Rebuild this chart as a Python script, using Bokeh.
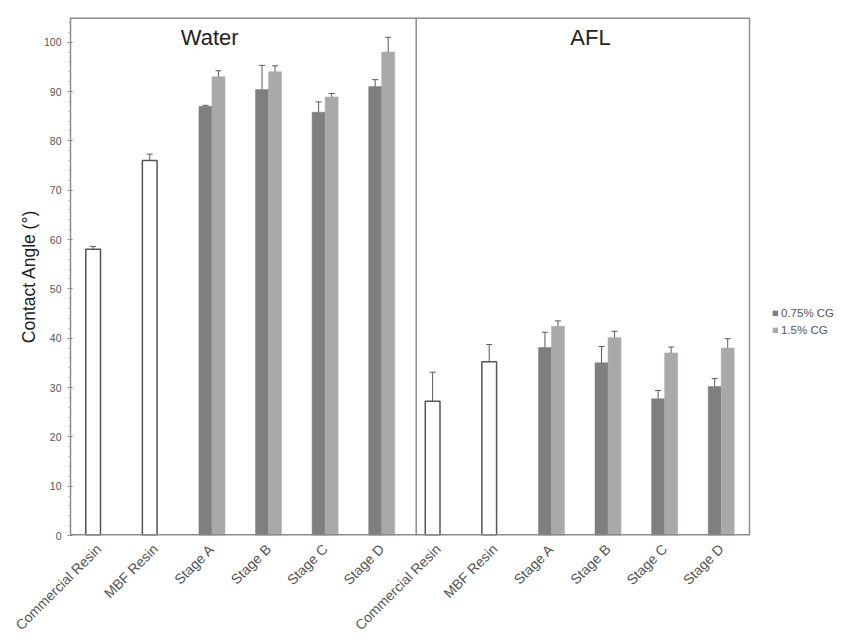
import math
from bokeh.plotting import figure
from bokeh.models import (ColumnDataSource, Whisker, Span, Label, Legend,
                          LegendItem, FixedTicker, TeeHead)
from bokeh.embed import file_html
from bokeh.resources import INLINE

# ---- data -------------------------------------------------------------
panels = ["Water", "AFL"]
resins = ["Commercial Resin", "MBF Resin"]
stages = ["Stage A", "Stage B", "Stage C", "Stage D"]
series_names = ["0.75% CG", "1.5% CG"]

water_resin = [58.0, 76.0]
water_resin_err = [0.6, 1.3]
water_low = [87.0, 90.4, 85.8, 91.0]
water_low_err = [0.2, 4.9, 2.1, 1.4]
water_high = [93.0, 94.0, 88.9, 98.0]
water_high_err = [1.2, 1.2, 0.7, 3.0]

afl_resin = [27.2, 35.2]
afl_resin_err = [5.9, 3.5]
afl_low = [38.1, 35.0, 27.7, 30.2]
afl_low_err = [3.1, 3.3, 1.7, 1.6]
afl_high = [42.4, 40.1, 37.0, 38.0]
afl_high_err = [1.1, 1.3, 1.2, 1.9]

y_ticks = list(range(0, 101, 10))
y_max = 105

# ---- styling -----------------------------------------------------------
FONT = "Liberation Sans"
DARK = "#7f7f7f"
LIGHT = "#aba8a9"
EDGE = "#555555"
FRAME = "#8c8c8c"

n_per_panel = len(resins) + len(stages)
n_cat = n_per_panel * len(panels)
centers = [i + 0.5 for i in range(n_cat)]
tick_labels = (resins + stages) * len(panels)
title_x = [2.46, 9.19]

# the frame runs to the right edge of the canvas; the space beyond the last
# category holds the legend, and the box around the bars is drawn by hand
W, H, LEFT, TOP, BOTTOM, BOX_W = 854, 642, 70, 17, 107, 679
x_end = n_cat * (W - LEFT) / BOX_W

p = figure(width=W, height=H, x_range=(0, x_end), y_range=(0, y_max),
           output_backend="svg", toolbar_location=None,
           min_border_left=LEFT, min_border_right=0,
           min_border_top=TOP, min_border_bottom=BOTTOM)
p.background_fill_color = "white"
p.border_fill_color = "white"
p.outline_line_color = None
p.xgrid.visible = False
p.ygrid.visible = False

resin_w, pair_w, pair_off, resin_off = 0.26, 0.23, 0.115, -0.1


def add_error(xs, tops, errs):
    src = ColumnDataSource(dict(x=xs, lo=[t - e for t, e in zip(tops, errs)],
                                hi=[t + e for t, e in zip(tops, errs)]))
    w = Whisker(base="x", lower="lo", upper="hi", source=src,
                line_color="#5a5a5a", line_width=1,
                upper_head=TeeHead(size=6, line_color="#5a5a5a", line_width=1),
                lower_head=TeeHead(size=6, line_color="#5a5a5a", line_width=1))
    p.add_layout(w)


low_renderers, high_renderers = [], []
for k, (res, res_err, low, low_err, high, high_err) in enumerate([
        (water_resin, water_resin_err, water_low, water_low_err, water_high, water_high_err),
        (afl_resin, afl_resin_err, afl_low, afl_low_err, afl_high, afl_high_err)]):
    base = k * n_per_panel
    rx = [centers[base + i] + resin_off for i in range(len(res))]
    sx = [centers[base + len(res) + i] for i in range(len(low))]
    lx = [x - pair_off for x in sx]
    hx = [x + pair_off for x in sx]

    p.vbar(x=rx, top=res, width=resin_w, bottom=0, fill_color="white",
           line_color=EDGE, line_width=1.5)
    r_low = p.vbar(x=lx, top=low, width=pair_w, bottom=0, fill_color=DARK,
                   line_color=DARK, line_width=0.5)
    r_high = p.vbar(x=hx, top=high, width=pair_w, bottom=0, fill_color=LIGHT,
                    line_color=LIGHT, line_width=0.5)
    low_renderers.append(r_low)
    high_renderers.append(r_high)

    add_error(rx, res, res_err)
    add_error(lx, low, low_err)
    add_error(hx, high, high_err)

# box around the bars: top, bottom and right edges, plus the panel divider
p.segment(x0=[0, 0], x1=[n_cat, n_cat], y0=[y_max, 0], y1=[y_max, 0],
          line_color=FRAME, line_width=3)
p.add_layout(Span(location=n_cat, dimension="height",
                  line_color=FRAME, line_width=1.5))
p.add_layout(Span(location=n_per_panel + 0.11, dimension="height",
                  line_color=FRAME, line_width=1.5))

# panel titles
for name, tx in zip(panels, title_x):
    p.add_layout(Label(x=tx, y=100.9, text=name, text_align="center",
                       text_baseline="middle", text_font=FONT,
                       text_font_size="22px", text_color="#222222"))

# x axis
p.xaxis.ticker = FixedTicker(ticks=centers)
p.xaxis.major_label_overrides = {c: t for c, t in zip(centers, tick_labels)}
p.xaxis.major_label_orientation = math.radians(45)
p.xaxis.major_label_text_font = FONT
p.xaxis.major_label_text_font_size = "14px"
p.xaxis.major_label_text_color = "#555555"
p.xaxis.major_label_standoff = 11
p.xaxis.major_tick_out = 0
p.xaxis.major_tick_in = 0
p.xaxis.minor_tick_out = 0
p.xaxis.minor_tick_in = 0
p.xaxis.axis_line_color = None

# y axis
p.yaxis.ticker = FixedTicker(ticks=y_ticks, minor_ticks=list(range(0, 105, 2)))
p.yaxis.major_label_text_font = FONT
p.yaxis.major_label_text_font_size = "10.5px"
p.yaxis.major_label_text_color = "#555555"
p.yaxis.major_label_standoff = 6
p.yaxis.major_tick_out = 3
p.yaxis.major_tick_in = 2
p.yaxis.minor_tick_out = 2
p.yaxis.minor_tick_in = 0
p.yaxis.major_tick_line_color = "#777777"
p.yaxis.minor_tick_line_color = "#aaaaaa"
p.yaxis.axis_line_color = FRAME
p.yaxis.axis_line_width = 1.5
p.yaxis.axis_label = "Contact Angle (°)"
p.yaxis.axis_label_text_font = FONT
p.yaxis.axis_label_text_font_size = "17.5px"
p.yaxis.axis_label_text_font_style = "normal"
p.yaxis.axis_label_text_color = "#222222"
p.yaxis.axis_label_standoff = 2

# legend in the space right of the box
legend = Legend(items=[LegendItem(label=series_names[0], renderers=low_renderers),
                       LegendItem(label=series_names[1], renderers=high_renderers)],
                location=(702, 199), orientation="vertical",
                glyph_width=6, glyph_height=6, label_height=12, spacing=5,
                padding=0, margin=0, label_standoff=3,
                label_text_font=FONT, label_text_font_size="11.5px",
                label_text_color="#555555", border_line_color=None,
                background_fill_alpha=0)
p.add_layout(legend, "center")

open("out.html", "w").write(file_html(p, INLINE))
